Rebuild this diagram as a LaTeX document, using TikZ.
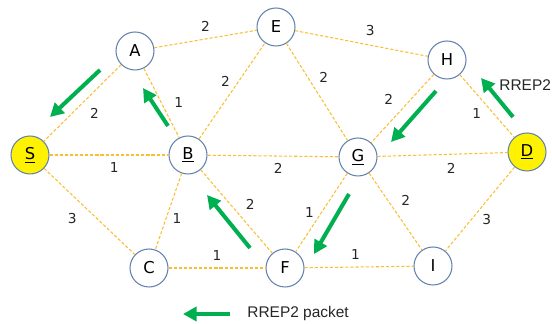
\documentclass[tikz,border=0pt]{standalone}
\usepackage{fontspec}
\setmainfont{DejaVu Sans}
\newfontfamily\arialfont{Liberation Sans}
\usetikzlibrary{arrows.meta,positioning}

\definecolor{ringblue}{RGB}{100,130,175}
\definecolor{linkorange}{RGB}{250,190,50}
\definecolor{pktgreen}{RGB}{0,176,80}

\tikzset{
  router/.style={circle, draw=ringblue, line width=0.6pt, fill=white,
    minimum size=0.76cm, inner sep=0pt, font=\fontsize{9.3}{10}\selectfont},
  endpt/.style={router, fill=yellow},
  link/.style={draw=linkorange, line width=0.6pt, dash pattern=on 1.8pt off 1.1pt},
  wt/.style={font=\fontsize{7.8}{9}\selectfont, text=black!85, inner sep=1pt},
  pkt/.style={-{Triangle[length=0.27cm,width=0.28cm]}, draw=pktgreen,
    line width=2.3pt},
  caption/.style={anchor=west, font=\arialfont\fontsize{8.8}{10}\selectfont,
    text=black!85, inner sep=0pt},
}

\begin{document}
\begin{tikzpicture}

    \useasboundingbox (0,0) rectangle (11.04,6.48);

    %% Network

    % Nodes
    \node[endpt]  (S) at (0.60,3.38) {\underline{S}};
    \node[router] (A) at (2.70,5.46) {A};
    \node[router] (E) at (5.52,5.94) {E};
    \node[router] (H) at (8.94,5.28) {H};
    \node[router] (B) at (3.76,3.38) {\underline{B}};
    \node[router] (G) at (7.16,3.34) {\underline{G}};
    \node[endpt]  (D) at (10.54,3.44) {\underline{D}};
    \node[router] (C) at (2.98,1.12) {C};
    \node[router] (F) at (5.70,1.12) {F};
    \node[router] (I) at (8.66,1.16) {I};

    % Links with costs
    \draw[link] (A) -- node[wt, above=3pt] (wAE) {2} (E);
    \draw[link] (E) -- node[wt, above=3pt, xshift=5pt] (wEH) {3} (H);
    \draw[link] (A) -- node[wt, below right=2pt and 3pt] (wAS) {2} (S);
    \draw[link] (A) -- node[wt, right=6pt] (wAB) {1} (B);
    \draw[link] (B) -- node[wt, above left=1pt and 0pt] (wBE) {2} (E);
    \draw[link] (E) -- node[wt, above right=4pt and 0pt] (wEG) {2} (G);
    \draw[link] (H) -- node[wt, above left=1pt and 4pt] (wHG) {2} (G);
    \draw[link] (H) -- node[wt, below left=0pt and 2pt] (wHD) {1} (D);
    \draw[link] (S) -- node[wt, below=3pt, xshift=3pt] (wSB) {1} (B);
    \draw[link] (B) -- node[wt, below=3pt, xshift=3pt] (wBG) {2} (G);
    \draw[link] (G) -- node[wt, below=4pt, xshift=5pt] (wGD) {2} (D);
    \draw[link] (S) -- node[wt, below left=0pt and 6pt] (wSC) {3} (C);
    \draw[link] (B) -- node[wt, right=1pt, yshift=-4pt] (wBC) {1} (C);
    \draw[link] (B) -- node[wt, right=4pt, yshift=4pt] (wBF) {2} (F);
    \draw[link] (G) -- node[wt, left=3pt] (wGF) {1} (F);
    \draw[link] (G) -- node[wt, above right=2pt and 2pt] (wGI) {2} (I);
    \draw[link] (D) -- node[wt, below right=2pt and 0pt] (wDI) {3} (I);
    \draw[link] (C) -- node[wt, above=3pt] (wCF) {1} (F);
    \draw[link] (F) -- node[wt, above=3pt, xshift=-2pt] (wFI) {1} (I);

    %% RREP2 path back to S

    \draw[pkt] (10.26,4.14) -- (9.62,4.92);
    \node[caption] (rrep) at (9.98,4.78) {RREP2};
    \draw[pkt] (8.72,4.66) -- (7.82,3.64);
    \draw[pkt] (6.98,2.60) -- (6.28,1.40);
    \draw[pkt] (5.00,1.52) -- (4.14,2.58);
    \draw[pkt] (3.36,3.96) -- (2.86,4.72);
    \draw[pkt] (2.00,5.08) -- (1.00,4.14);

    % Legend
    \draw[pkt] (4.60,0.20) -- (3.66,0.20);
    \node[caption] (legend) at (4.94,0.20) {RREP2 packet};

\end{tikzpicture}
\end{document}
